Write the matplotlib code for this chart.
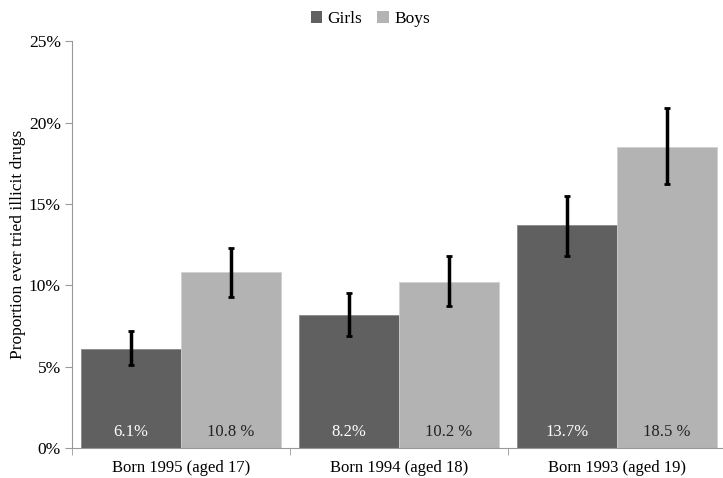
import numpy as np
import matplotlib.pyplot as plt
from matplotlib.patches import Patch

cohorts = ["Born 1995 (aged 17)", "Born 1994 (aged 18)", "Born 1993 (aged 19)"]
girls = [6.1, 8.2, 13.7]
boys = [10.8, 10.2, 18.5]
girls_lo = [5.1, 6.9, 11.8]
girls_hi = [7.2, 9.5, 15.5]
boys_lo = [9.3, 8.7, 16.2]
boys_hi = [12.3, 11.8, 20.9]
girls_labels = ["6.1%", "8.2%", "13.7%"]
boys_labels = ["10.8 %", "10.2 %", "18.5 %"]

plt.rcParams['font.family'] = ['Liberation Serif', 'DejaVu Serif']
plt.rcParams['font.size'] = 12

fig = plt.figure(figsize=(7.23, 4.78), dpi=100)
ax = fig.add_axes([0.0996, 0.0628, 0.9044, 0.851])

x = np.arange(len(cohorts))
w = 0.46
girl_color = '#606060'
boy_color = '#b3b3b3'

ax.bar(x - w / 2, girls, w, color=girl_color, edgecolor='#8a8a8a', linewidth=0.6, zorder=2)
ax.bar(x + w / 2, boys, w, color=boy_color, edgecolor='#d0d0d0', linewidth=0.6, zorder=2)

# confidence intervals
g_err = [np.array(girls) - np.array(girls_lo), np.array(girls_hi) - np.array(girls)]
b_err = [np.array(boys) - np.array(boys_lo), np.array(boys_hi) - np.array(boys)]
ax.errorbar(x - w / 2, girls, yerr=g_err, fmt='none', ecolor='black', elinewidth=2.5,
            capsize=2, capthick=2, zorder=3)
ax.errorbar(x + w / 2, boys, yerr=b_err, fmt='none', ecolor='black', elinewidth=2.5,
            capsize=2, capthick=2, zorder=3)

for i in range(len(cohorts)):
    ax.text(x[i] - w / 2, 0.5, girls_labels[i], ha='center', va='bottom',
            color='white', fontsize=12, zorder=4)
    ax.text(x[i] + w / 2, 0.5, boys_labels[i], ha='center', va='bottom',
            color='#222222', fontsize=12, zorder=4)

ax.set_xlim(-0.5, 2.5)
ax.set_ylim(0, 25)
ax.set_yticks(np.arange(0, 26, 5))
ax.set_yticklabels([f"{v}%" for v in range(0, 26, 5)], fontsize=12.5)
ax.set_xticks(x)
ax.set_xticklabels(cohorts, fontsize=12)
ax.set_xticks(np.arange(-0.5, 3, 1), minor=True)
ax.tick_params(axis='x', which='major', length=0, pad=9)
ax.tick_params(axis='x', which='minor', length=5, color='#999999')
ax.tick_params(axis='y', length=5, color='#999999', pad=3)

for side in ['top', 'right']:
    ax.spines[side].set_visible(False)
for side in ['left', 'bottom']:
    ax.spines[side].set_color('#999999')
    ax.spines[side].set_linewidth(0.8)

ax.set_ylabel("Proportion ever tried illicit drugs", fontsize=12.5, labelpad=2)

handles = [Patch(facecolor=girl_color, label='Girls'), Patch(facecolor=boy_color, label='Boys')]
fig.legend(handles=handles, loc='upper center', bbox_to_anchor=(0.512, 1.01), ncol=2,
           frameon=False, fontsize=12.5, handlelength=0.65, handleheight=0.65,
           handletextpad=0.3, columnspacing=0.9)

fig.savefig("out.png", dpi=100)
